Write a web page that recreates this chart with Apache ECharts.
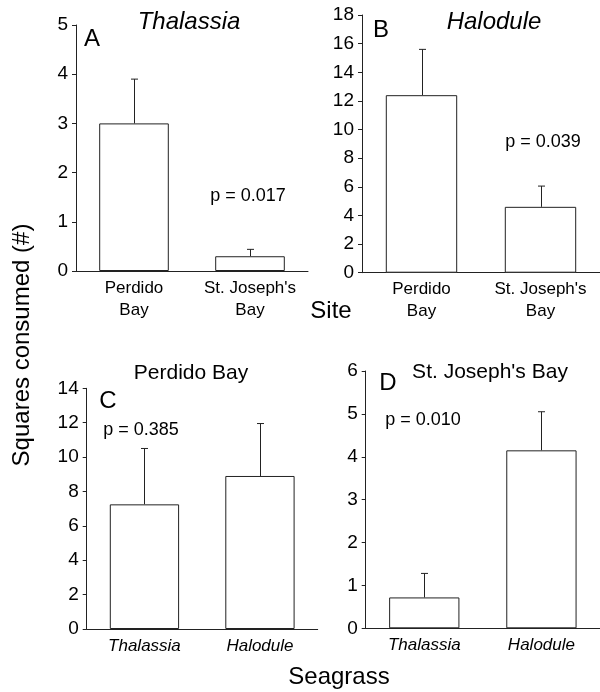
<!DOCTYPE html>
<html>
<head>
<meta charset="utf-8">
<script src="https://cdn.jsdelivr.net/npm/echarts@6/dist/echarts.min.js"></script>
<style>html,body{margin:0;padding:0;background:#fff}#c{width:600px;height:692px}</style>
</head>
<body>
<div id="c"></div>
<script>
// Panel A: Thalassia by site
const sitesCats = ['Perdido\nBay', "St. Joseph's\nBay"];
const aMeans = [3.0, 0.3];
const aUpper = [3.9, 0.44];
// Panel B: Halodule by site
const bMeans = [12.4, 4.6];
const bUpper = [15.6, 6.05];
// Panel C: Perdido Bay by seagrass
const grassCats = ['Thalassia', 'Halodule'];
const cMeans = [7.25, 8.9];
const cUpper = [10.5, 11.95];
// Panel D: St. Joseph's Bay by seagrass
const dMeans = [0.72, 4.15];
const dUpper = [1.28, 5.05];
// Axis ticks
const aTicks = {max: 5, interval: 1};
const bTicks = {max: 18, interval: 2};
const cTicks = {max: 14, interval: 2};
const dTicks = {max: 6, interval: 1};

const FONT = '"Liberation Sans", Arial, Helvetica, sans-serif';
const INK = '#222';

const grids = [
  {left: 76, top: 25, width: 232, height: 246},
  {left: 362, top: 15, width: 245.6, height: 257.7},
  {left: 86.7, top: 388.3, width: 231, height: 240.7},
  {left: 365.7, top: 371, width: 245, height: 257.3}
];

function xAxis(i, cats, italic) {
  return {
    type: 'category', gridIndex: i, data: cats,
    axisLine: {lineStyle: {color: INK, width: 1}},
    axisTick: {alignWithLabel: true, length: 3, lineStyle: {color: INK}},
    axisLabel: {color: '#000', fontSize: 17, fontFamily: FONT, lineHeight: 22,
      fontStyle: italic ? 'italic' : 'normal', margin: 6, interval: 0}
  };
}
function yAxis(i, t) {
  return {
    type: 'value', gridIndex: i, min: 0, max: t.max, interval: t.interval,
    splitLine: {show: false},
    axisLine: {show: true, lineStyle: {color: INK, width: 1}},
    axisTick: {show: true, length: 4, lineStyle: {color: INK}},
    axisLabel: {color: '#000', fontSize: 19, fontFamily: FONT, margin: 8}
  };
}
function bars(i, means) {
  return {
    type: 'bar', xAxisIndex: i, yAxisIndex: i, data: means, barWidth: '60%',
    itemStyle: {color: '#fff', borderColor: INK, borderWidth: 1}, z: 2, silent: true
  };
}
function errs(i, means, upper) {
  return {
    type: 'custom', xAxisIndex: i, yAxisIndex: i, z: 1, silent: true,
    data: means.map((m, k) => [k, m, upper[k]]),
    renderItem: function (params, api) {
      const p0 = api.coord([api.value(0), api.value(1)]);
      const p1 = api.coord([api.value(0), api.value(2)]);
      const x = Math.round(p0[0]) + 0.5;
      const cap = 3.5;
      return {
        type: 'group', children: [
          {type: 'line', shape: {x1: x, y1: p0[1], x2: x, y2: p1[1]}, style: {stroke: INK, lineWidth: 1}},
          {type: 'line', shape: {x1: x - cap, y1: p1[1], x2: x + cap, y2: p1[1]}, style: {stroke: INK, lineWidth: 1}}
        ]
      };
    }
  };
}
function ctxt(x, y, text, size, italic, rot) {
  return {type: 'text', x: x, y: y, rotation: rot || 0,
    style: {text: text, font: (italic ? 'italic ' : '') + size + 'px ' + FONT, fill: '#000',
      align: 'center', verticalAlign: 'middle'}};
}

const chart = echarts.init(document.getElementById('c'), null, {renderer: 'canvas'});
chart.setOption({
  animation: false,
  backgroundColor: '#fff',
  grid: grids,
  xAxis: [xAxis(0, sitesCats, false), xAxis(1, sitesCats, false), xAxis(2, grassCats, true), xAxis(3, grassCats, true)],
  yAxis: [yAxis(0, aTicks), yAxis(1, bTicks), yAxis(2, cTicks), yAxis(3, dTicks)],
  series: [
    bars(0, aMeans), errs(0, aMeans, aUpper),
    bars(1, bMeans), errs(1, bMeans, bUpper),
    bars(2, cMeans), errs(2, cMeans, cUpper),
    bars(3, dMeans), errs(3, dMeans, dUpper)
  ],
  graphic: [
    ctxt(189, 22, 'Thalassia', 24, true),
    ctxt(494, 22, 'Halodule', 24, true),
    ctxt(92, 39, 'A', 24, false),
    ctxt(381, 30, 'B', 24, false),
    ctxt(108, 401, 'C', 24, false),
    ctxt(388, 383, 'D', 24, false),
    ctxt(191, 373, 'Perdido Bay', 21, false),
    ctxt(490, 372, "St. Joseph's Bay", 21, false),
    ctxt(248, 196, 'p = 0.017', 18, false),
    ctxt(543, 142, 'p = 0.039', 18, false),
    ctxt(141, 430, 'p = 0.385', 18, false),
    ctxt(423, 420, 'p = 0.010', 18, false),
    ctxt(331, 311, 'Site', 24, false),
    ctxt(339, 677, 'Seagrass', 24, false),
    ctxt(22, 345, 'Squares consumed (#)', 24, false, Math.PI / 2)
  ]
});
</script>
</body>
</html>
